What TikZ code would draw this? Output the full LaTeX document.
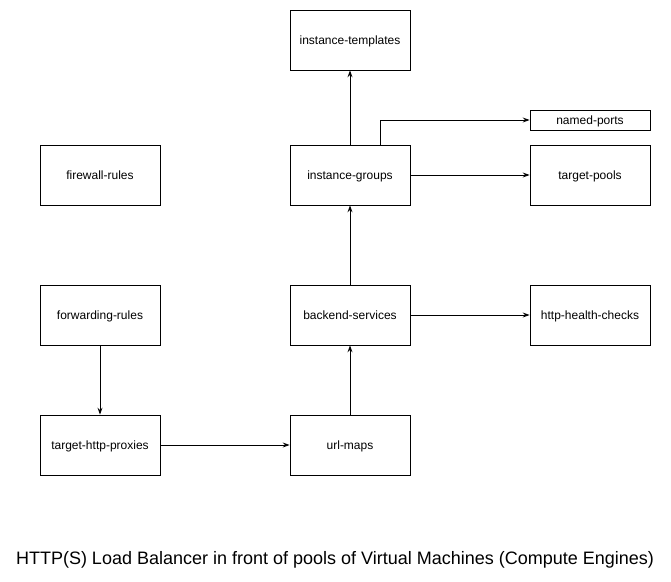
\documentclass[tikz,border=0pt]{standalone}
\usepackage{fontspec}
\setmainfont{Liberation Sans}
\usetikzlibrary{arrows.meta}
\begin{document}
\begin{tikzpicture}[x=1pt,y=-1pt,
  box/.style={draw=black,line width=0.8pt,fill=white,minimum width=120pt,minimum height=60pt,inner sep=0pt,text height=10pt,text depth=2pt,font=\fontsize{12}{14}\selectfont},
  smallbox/.style={box,minimum height=20pt},
  conn/.style={draw=black,line width=0.8pt,-{Stealth[length=7pt,width=5pt,inset=2.5pt]}}]
\useasboundingbox (0,0) rectangle (671,581);
\node[box] (templates) at (350,40) {instance-templates};
\node[box] (firewall) at (100,175) {firewall-rules};
\node[box] (groups) at (350,175) {instance-groups};
\node[smallbox] (named) at (590,120) {named-ports};
\node[box] (pools) at (590,175) {target-pools};
\node[box] (forwarding) at (100,315) {forwarding-rules};
\node[box] (backend) at (350,315) {backend-services};
\node[box] (health) at (590,315) {http-health-checks};
\node[box] (proxies) at (100,445) {target-http-proxies};
\node[box] (urlmaps) at (350,445) {url-maps};
\node[font=\fontsize{18}{22}\selectfont] (caption) at (335,560) {HTTP(S) Load Balancer in front of pools of Virtual Machines (Compute Engines)};
\coordinate (gtop) at (380,145);
\draw[conn] (groups.north) -- (templates.south);
\draw[conn] (gtop) |- (named.west);
\draw[conn] (groups.east) -- (pools.west);
\draw[conn] (backend.north) -- (groups.south);
\draw[conn] (backend.east) -- (health.west);
\draw[conn] (forwarding.south) -- (proxies.north);
\draw[conn] (proxies.east) -- (urlmaps.west);
\draw[conn] (urlmaps.north) -- (backend.south);
\end{tikzpicture}
\end{document}
